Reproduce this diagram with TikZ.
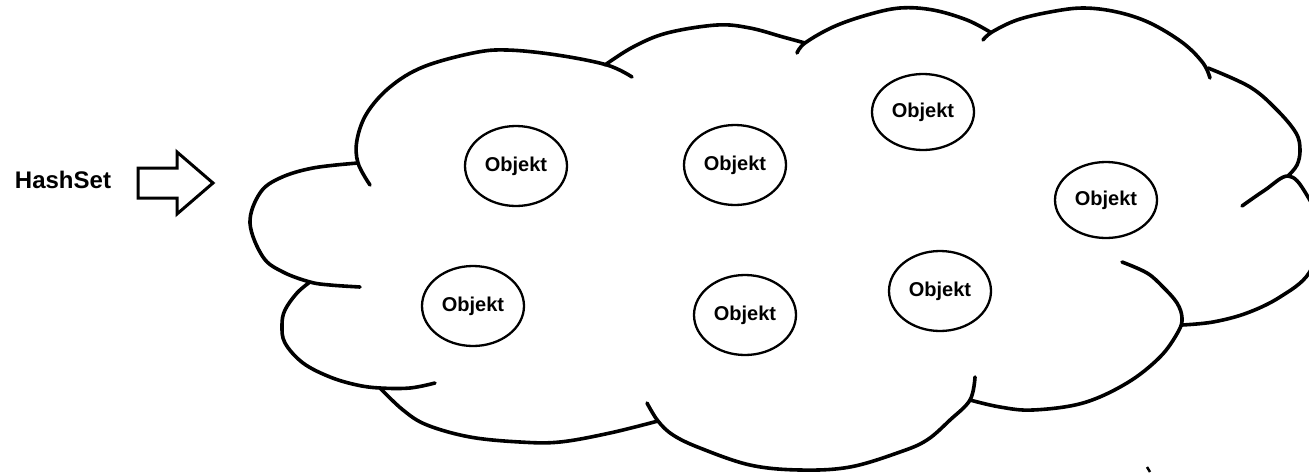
\documentclass[tikz,border=0pt]{standalone}
\usepackage{fontspec}
\setmainfont{Liberation Sans}
\usetikzlibrary{shapes.geometric}
\tikzset{
  lobe/.style={line width=3.6pt, line cap=round, line join=round},
  obj/.style={draw, ellipse, line width=2.3pt, minimum width=102pt, minimum height=80pt, inner sep=0pt,
    font=\fontsize{20}{20}\selectfont\bfseries},
  blockarrow/.style={draw, line width=3pt, line join=miter},
  label/.style={font=\fontsize{24}{24}\selectfont\bfseries, inner sep=0pt}
}
\begin{document}
\begin{tikzpicture}[x=1pt, y=-1pt]
\useasboundingbox (0,0) rectangle (1309,472);
\clip (0,0) rectangle (1309,472);
\fill[white] (0,0) rectangle (1309,472);

% label and block arrow
\node[label] (hs) at (63,180) {HashSet};
\draw[blockarrow] (138,168) -- (177,168) -- (177,152) -- (213,183) -- (177,214) -- (177,198) -- (138,198) -- cycle;

% cloud lobes
% left
\draw[lobe] plot[smooth, tension=0.6] coordinates {(358,163) (313,168) (280,178) (260,193) (250,223) (263,257) (283,272) (310,282) (330,285) (360,287)};
% lower-left
\draw[lobe] plot[smooth, tension=0.6] coordinates {(310,282) (297,293) (285,310) (282,325) (285,343) (303,363) (330,377) (357,385) (380,388) (410,388) (435,383)};
% bottom-left
\draw[lobe] plot[smooth, tension=0.6] coordinates {(380,388) (403,410) (427,425) (470,437) (520,442) (560,442) (610,433) (658,421)};
% bottom-middle
\draw[lobe] plot[smooth, tension=0.6] coordinates {(647,403) (658,421) (673,435) (700,448) (750,465) (800,470) (850,467) (900,452) (927,440) (950,420) (970,400) (975,377)};
% bottom-right
\draw[lobe] plot[smooth, tension=0.6] coordinates {(970,400) (1000,407) (1033,410) (1083,403) (1127,383) (1160,357) (1178,332) (1182,318) (1177,303) (1163,287) (1147,273) (1122,262)};
% lower-right (partly outside)
\draw[lobe] plot[smooth, tension=0.6] coordinates {(1242,206) (1265,190) (1288,176) (1305,192) (1322,232) (1309,273) (1280,297) (1247,313) (1213,322) (1182,325)};
% upper-right
\draw[lobe] plot[smooth, tension=0.6] coordinates {(1208,68) (1250,87) (1277,110) (1296,133) (1300,150) (1297,165) (1288,176)};
% top-right
\draw[lobe] plot[smooth, tension=0.6] coordinates {(983,40) (992,32) (1017,20) (1050,12) (1083,8) (1117,12) (1150,23) (1183,43) (1203,63) (1210,78)};
% top-middle
\draw[lobe] plot[smooth, tension=0.6] coordinates {(797,53) (805,43) (833,27) (867,15) (900,8) (933,10) (967,20) (990,32)};
% top-middle-left
\draw[lobe] plot[smooth, tension=0.6] coordinates {(605,65) (633,47) (667,33) (717,25) (750,28) (783,37) (805,43)};
% upper-left
\draw[lobe] plot[smooth, tension=0.6] coordinates {(370,185) (358,163) (357,140) (367,113) (390,87) (423,67) (473,53) (507,50) (557,55) (607,65) (632,77)};
% small stroke bottom right
\draw[line width=2.5pt] (1147,467) -- (1150,472);

% objects
\node[obj] (o1) at (516,166) {Objekt};
\node[obj] (o2) at (735,165) {Objekt};
\node[obj, minimum height=76pt] (o3) at (923,112) {Objekt};
\node[obj, minimum height=76pt] (o4) at (1106,200) {Objekt};
\node[obj] (o5) at (473,306) {Objekt};
\node[obj] (o6) at (745,315) {Objekt};
\node[obj] (o7) at (940,291) {Objekt};
\end{tikzpicture}
\end{document}
